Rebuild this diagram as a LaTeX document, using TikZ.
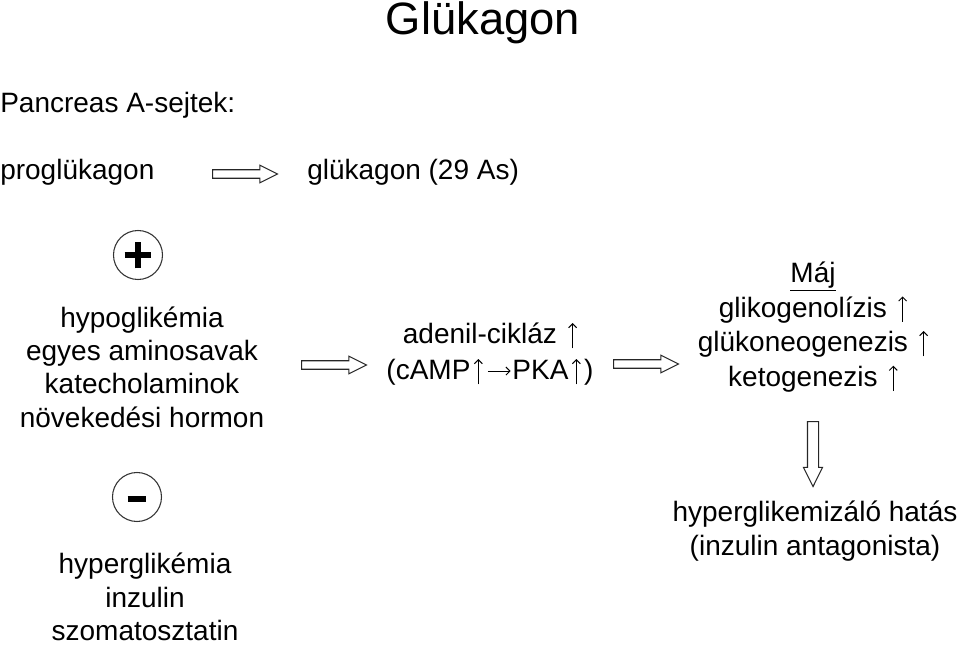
\documentclass[tikz,border=0pt]{standalone}
\usepackage{fontspec}
\setmainfont{Liberation Sans}
\usetikzlibrary{shapes.arrows,arrows.meta}

\newcommand{\upar}{\hspace{2.5pt}\tikz[baseline=0pt]\draw[line width=0.75pt,-{Straight Barb[length=3pt,width=6pt]}] (0,-3.5pt) -- (0,15.5pt);\hspace{2.5pt}}
\newcommand{\rar}{\hspace{1pt}\tikz[baseline=0pt]\draw[line width=0.75pt,-{Straight Barb[length=3pt,width=6pt]}] (0,6.5pt) -- (17pt,6.5pt);\hspace{1pt}}

\begin{document}
\begin{tikzpicture}[x=0.75pt,y=-0.75pt]
	\tikzstyle{every node}+=[inner sep=0pt, font=\fontsize{21}{25}\selectfont]
	\tikzstyle{txt}=[align=center]
	\tikzstyle{hollow}=[draw=black!85, line width=0.8pt, single arrow, single arrow head extend=3.4pt, single arrow tip angle=53, minimum height=48.75pt, inner sep=2.8pt, anchor=tail]
	\tikzstyle{sign}=[draw=black!80, circle, line width=0.8pt, minimum size=36.75pt]
	\tikzstyle{signbar}=[line width=3.9pt]
	\useasboundingbox (0,0) rectangle (959,645);
	% heading
	\node (title) at (483,23) {\fontsize{34}{40}\selectfont Glükagon};
	\node[anchor=west] (pancreas) at (0,105) {Pancreas A-sejtek:};
	\node[anchor=west] (prog) at (0,172) {proglükagon};
	\node[anchor=west] (gluk) at (307,172) {glükagon (29 As)};
	\node[hollow] (a1) at (212,174) {};
	% stimuli
	\node[sign] (plus) at (138,255) {};
	\draw[signbar] ([xshift=-10pt]plus.center) -- ([xshift=10pt]plus.center);
	\draw[signbar] ([yshift=-10pt]plus.center) -- ([yshift=10pt]plus.center);
	\node[txt] (stim) at (142,367) {hypoglikémia\\egyes aminosavak\\katecholaminok\\növekedési hormon};
	\node[sign] (minus) at (137,497) {};
	\draw[signbar] ([xshift=-7pt,yshift=-1.5pt]minus.center) -- ([xshift=7pt,yshift=-1.5pt]minus.center);
	\node[txt] (inhib) at (145,597) {hyperglikémia\\inzulin\\szomatosztatin};
	% effect chain
	\node[hollow] (a2) at (301,365) {};
	\node[txt] (camp) at (490,354) {adenil-cikláz \upar\\[2pt](cAMP\upar\rar PKA\upar)};
	\node[hollow] (a3) at (613,364) {};
	\node[txt] (maj) at (813,327) {\underline{Máj}\\[1pt]glikogenolízis \upar\\[1pt]glükoneogenezis \upar\\[1pt]ketogenezis \upar};
	\node[hollow, shape border rotate=270, inner sep=3.75pt, single arrow head extend=3pt] (a4) at (813,421) {};
	\node[txt] (hyper) at (815,531) {hyperglikemizáló hatás\\[1pt](inzulin antagonista)};
\end{tikzpicture}
\end{document}
